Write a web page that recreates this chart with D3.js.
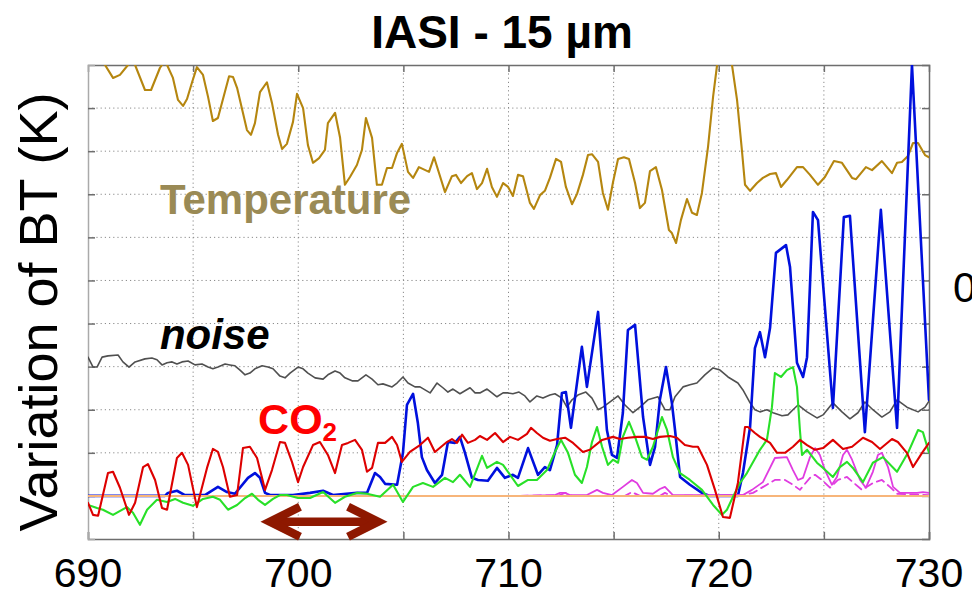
<!DOCTYPE html>
<html>
<head>
<meta charset="utf-8">
<script src="https://cdn.jsdelivr.net/npm/d3@7"></script>
<style>
  html, body { margin: 0; padding: 0; background: #fff; overflow: hidden; }
  svg { display: block; font-family: "Liberation Sans", Arial, sans-serif; }
</style>
</head>
<body>
<svg id="chart" width="972" height="594"></svg>
<script>
// ---------- data (wavenumber cm-1, variation of BT in K) ----------
const xTickLabels = [690, 700, 710, 720, 730];
const xGridValues = [695, 700, 705, 710, 715, 720, 725];
const yGridValues = [0, 1, 2, 3, 4, 5, 6, 7, 8, 9];

const temperature = [[690,10.5],[690.81,10.0],[691.19,9.70],[691.52,9.77],[691.9,10.0],[692.07,10.15],[692.24,10.0],[692.71,9.42],[693.0,9.42],[693.42,9.93],[693.61,10.07],[693.76,10.0],[694.04,9.70],[694.28,9.19],[694.52,9.05],[694.71,9.21],[694.95,9.60],[695.18,9.95],[695.47,9.77],[695.71,9.26],[695.94,8.70],[696.18,8.77],[696.71,9.74],[696.9,9.72],[697.09,9.47],[697.56,8.49],[697.75,8.38],[697.94,8.65],[698.18,9.37],[698.51,9.60],[698.75,9.12],[699.04,8.38],[699.23,8.05],[699.46,8.17],[699.75,8.68],[699.94,9.33],[700.23,9.0],[700.46,8.14],[700.7,7.73],[700.99,7.84],[701.27,8.03],[701.41,8.65],[701.75,8.89],[701.99,8.31],[702.22,7.22],[702.46,7.40],[702.79,7.68],[703.03,8.03],[703.22,8.77],[703.51,8.31],[703.74,7.22],[703.98,7.22],[704.22,7.61],[704.46,7.61],[704.7,7.96],[704.93,8.17],[705.22,7.52],[705.46,7.38],[705.74,7.63],[706.22,7.52],[706.46,7.86],[706.98,7.05],[707.31,7.42],[707.5,7.45],[707.74,7.26],[708.03,7.42],[708.26,7.49],[708.5,7.12],[708.74,7.26],[708.98,7.59],[709.21,7.17],[709.45,6.94],[709.74,7.26],[709.98,7.17],[710.21,6.96],[710.45,7.45],[710.69,7.42],[711.02,6.80],[711.21,6.66],[711.5,6.98],[711.73,7.08],[711.97,7.38],[712.26,7.82],[712.5,7.75],[712.73,7.17],[713.02,6.77],[713.26,7.01],[713.54,7.45],[713.78,7.91],[713.97,7.93],[714.26,7.75],[714.49,7.03],[714.73,6.64],[714.97,7.28],[715.21,7.82],[715.49,7.86],[715.73,7.82],[716.02,7.26],[716.25,6.68],[716.49,6.80],[716.73,7.54],[717.01,7.63],[717.3,7.10],[717.63,6.17],[717.77,6.10],[717.97,5.87],[718.2,6.40],[718.49,6.89],[718.73,6.57],[718.96,6.52],[719.2,7.03],[719.49,8.10],[719.73,9.26],[719.92,10.0],[720.29,11.0],[720.63,10.0],[720.87,9.19],[721.1,8.03],[721.25,7.22],[721.49,7.08],[721.82,7.26],[722.1,7.38],[722.44,7.47],[722.72,7.49],[722.96,7.17],[723.24,7.33],[723.72,7.63],[724.01,7.63],[724.34,7.45],[724.72,7.22],[725.05,7.40],[725.48,7.77],[725.86,7.73],[726.34,7.38],[726.53,7.35],[727.0,7.63],[727.29,7.56],[727.76,7.77],[728.24,7.49],[728.48,7.73],[728.71,7.75],[729.0,7.89],[729.24,8.19],[729.48,8.19],[729.81,7.91],[730,7.86]];

const noise = [[690,3.22],[690.24,2.99],[690.43,2.99],[690.67,3.22],[690.95,3.25],[691.43,3.27],[691.66,3.11],[691.95,2.99],[692.24,3.11],[692.71,3.18],[693.04,3.20],[693.28,3.16],[693.52,3.04],[693.76,3.09],[694.0,3.11],[694.23,3.06],[694.47,3.11],[694.76,3.13],[695.09,3.04],[695.42,3.06],[695.71,2.99],[695.94,2.95],[696.18,2.99],[696.52,3.06],[696.75,3.04],[696.99,3.02],[697.23,2.92],[697.47,2.81],[697.7,2.85],[697.94,2.95],[698.28,3.02],[698.56,2.99],[698.8,2.95],[699.13,2.78],[699.37,2.74],[699.61,2.85],[699.99,2.99],[700.23,2.95],[700.46,2.85],[700.8,2.74],[701.18,2.71],[701.41,2.81],[701.75,2.90],[701.99,2.85],[702.22,2.74],[702.56,2.67],[702.84,2.67],[703.22,2.81],[703.51,2.71],[703.79,2.58],[704.03,2.60],[704.46,2.53],[704.7,2.62],[704.98,2.76],[705.22,2.62],[705.55,2.53],[705.79,2.53],[706.03,2.46],[706.27,2.39],[706.6,2.62],[706.88,2.51],[707.12,2.41],[707.36,2.48],[707.69,2.37],[707.93,2.44],[708.17,2.51],[708.41,2.39],[708.64,2.39],[708.98,2.48],[709.21,2.39],[709.45,2.30],[709.74,2.39],[709.98,2.39],[710.21,2.37],[710.5,2.41],[710.78,2.32],[711.02,2.18],[711.35,2.32],[711.64,2.27],[711.97,2.34],[712.21,2.37],[712.54,2.27],[712.78,2.06],[713.02,2.23],[713.3,2.34],[713.68,2.41],[713.97,2.27],[714.26,2.00],[714.49,2.06],[714.83,2.18],[715.21,2.32],[715.54,2.11],[715.92,1.93],[716.25,2.06],[716.63,2.23],[717.11,2.30],[717.44,2.00],[717.68,2.00],[717.92,2.30],[718.3,2.53],[718.63,2.58],[718.96,2.62],[719.34,2.81],[719.73,2.97],[720.06,2.92],[720.44,2.76],[720.91,2.62],[721.15,2.46],[721.49,2.16],[721.72,2.00],[721.96,1.95],[722.29,2.00],[722.58,1.93],[723.01,1.86],[723.29,1.88],[723.53,2.00],[723.77,2.11],[724.2,1.95],[724.67,1.81],[724.96,1.88],[725.43,2.16],[725.86,1.95],[726.24,1.79],[726.62,1.93],[726.95,2.18],[727.33,2.00],[727.76,1.83],[728.14,1.95],[728.48,2.23],[728.95,2.06],[729.48,1.95],[729.81,2.06],[730,2.20]];

const seriesBlue = [[690,0],[693.66,0],[693.8,0.07],[694.23,0.12],[694.61,0.02],[695.56,0.02],[696.18,0.21],[696.61,0.09],[696.99,0.05],[697.61,0.42],[697.94,0.53],[698.18,0.42],[698.42,0.07],[698.66,0.02],[699.75,0.02],[700.56,0.07],[701.18,0.12],[701.65,0.02],[702.79,0.07],[703.27,0.07],[703.65,0.53],[703.89,0.44],[704.13,0.28],[704.7,0.26],[704.98,1.0],[705.17,2.11],[705.46,2.37],[705.69,1.69],[705.88,0.90],[706.12,0.60],[706.5,0.30],[706.84,0.49],[707.12,1.25],[707.45,1.23],[707.69,1.37],[707.93,1.0],[708.26,0.42],[708.55,0.37],[709.02,0.35],[709.45,0.65],[709.83,0.42],[710.21,0.49],[710.45,0.42],[710.93,1.11],[711.4,0.49],[711.73,0.67],[711.97,0.60],[712.31,1.18],[712.54,2.39],[712.73,2.41],[712.97,1.58],[713.49,3.46],[713.73,2.53],[714.26,4.27],[714.68,1.53],[714.92,0.95],[715.16,0.88],[715.44,1.93],[715.68,3.85],[716.02,3.97],[716.4,1.83],[716.73,0.72],[716.97,1.14],[717.2,2.23],[717.49,2.99],[717.77,2.16],[717.92,1.53],[718.16,0.44],[718.63,0.26],[719.2,0.07],[719.58,0],[720.91,0],[721.15,0.53],[721.49,1.60],[721.72,3.43],[721.96,3.80],[722.2,3.22],[722.44,3.90],[722.72,5.64],[723.2,5.82],[723.39,5.31],[723.72,3.09],[724.01,2.76],[724.2,3.22],[724.48,6.59],[724.72,6.40],[725.43,2.04],[725.95,6.47],[726.24,6.50],[726.95,1.48],[727.71,6.64],[728.48,1.58],[729.19,10.0],[730,2.23]];

const seriesGreen = [[690,-0.21],[690.43,-0.28],[690.71,-0.32],[691.19,-0.44],[691.85,-0.26],[692.14,-0.39],[692.47,-0.67],[692.81,-0.32],[693.28,-0.09],[693.76,-0.14],[694.14,-0.07],[694.52,-0.16],[694.99,-0.23],[695.47,-0.07],[695.94,-0.02],[696.28,-0.09],[696.66,-0.32],[697.09,-0.21],[697.47,-0.05],[697.8,0.05],[698.09,-0.09],[698.42,-0.21],[698.8,-0.07],[699.13,0.02],[699.46,0.02],[699.99,-0.05],[700.56,-0.05],[701.18,0.09],[701.75,-0.16],[702.22,-0.02],[702.79,0.07],[703.27,0.05],[703.89,-0.02],[704.51,0.26],[704.98,-0.14],[705.46,0.21],[705.93,0.30],[706.41,0.21],[706.98,0.42],[707.36,0.32],[707.69,0.49],[708.17,0.21],[708.74,0.93],[708.98,0.65],[709.45,0.79],[709.74,0.72],[710.45,0.23],[710.93,0.37],[711.35,0.37],[711.83,0.60],[712.21,1.02],[712.5,1.30],[712.83,1.0],[713.16,0.49],[713.49,0.30],[713.73,0.67],[713.97,1.25],[714.21,1.60],[714.45,1.14],[714.73,0.72],[714.97,0.84],[715.21,0.77],[715.44,1.37],[715.73,1.72],[716.02,1.37],[716.35,0.90],[716.59,0.84],[716.87,1.14],[717.3,1.83],[717.54,1.53],[717.82,0.90],[718.16,0.53],[718.63,0.37],[719.2,0.14],[719.73,-0.21],[720.15,-0.44],[720.39,-0.32],[720.68,-0.02],[721.01,0.30],[721.34,0.53],[721.96,1.07],[722.29,1.30],[722.53,2.06],[722.67,2.85],[722.96,2.76],[723.24,2.92],[723.53,2.99],[723.72,2.53],[723.86,1.53],[723.96,0.95],[724.2,1.07],[724.67,0.77],[724.96,0.65],[725.43,0.44],[725.76,0.67],[726.1,0.79],[726.38,0.65],[726.86,0.32],[727.33,0.77],[727.81,0.90],[728.48,0.56],[729.0,1.0],[729.48,1.53],[729.71,1.48],[730,1.0]];

const seriesRed = [[690,-0.16],[690.24,-0.44],[690.48,-0.46],[690.95,0.53],[691.19,0.56],[691.52,0.19],[691.95,-0.44],[692.24,-0.16],[692.62,0.67],[692.85,0.74],[693.19,0.37],[693.52,-0.28],[693.76,-0.32],[694.23,0.88],[694.47,1.0],[694.76,0.72],[695.18,-0.26],[695.66,0.65],[695.94,1.09],[696.18,1.02],[696.42,0.67],[696.75,-0.02],[697.09,0.02],[697.37,1.11],[697.7,1.14],[698.04,0.88],[698.42,0.14],[698.75,0.60],[699.13,1.25],[699.37,1.23],[699.7,0.79],[699.99,0.32],[700.23,0.67],[700.7,1.18],[701.03,1.25],[701.41,0.95],[701.75,0.53],[702.08,1.18],[702.37,1.23],[702.7,1.30],[703.03,1.07],[703.27,0.56],[703.51,0.65],[703.79,1.23],[704.13,1.23],[704.46,1.37],[704.7,1.18],[704.93,0.79],[705.31,1.02],[705.79,1.18],[706.17,1.35],[706.5,1.02],[707.07,1.25],[707.31,1.32],[707.55,1.23],[707.79,1.42],[708.07,1.23],[708.41,1.30],[708.64,1.39],[708.98,1.30],[709.36,1.46],[709.74,1.25],[710.07,1.37],[710.45,1.30],[710.88,1.44],[711.07,1.58],[711.35,1.46],[711.64,1.35],[711.97,1.28],[712.31,1.32],[712.69,1.35],[713.07,1.23],[713.54,1.02],[713.87,1.07],[714.45,1.30],[714.97,1.37],[715.3,1.32],[715.68,1.35],[716.11,1.37],[716.49,1.37],[716.87,1.32],[717.2,1.37],[717.68,1.39],[718.01,1.35],[718.39,1.18],[718.77,1.14],[719.01,1.14],[719.44,0.72],[719.82,0.14],[720.2,-0.49],[720.53,-0.51],[720.91,0.30],[721.25,1.60],[721.39,1.60],[721.72,1.46],[721.96,1.37],[722.44,1.23],[722.77,1.0],[723.15,1.0],[723.53,1.14],[723.86,1.30],[724.2,1.18],[724.58,1.07],[724.96,1.11],[725.43,1.30],[725.91,1.09],[726.34,1.14],[726.86,1.35],[727.29,1.25],[727.67,1.09],[728.24,1.32],[728.52,1.25],[728.95,1.0],[729.24,0.67],[729.67,1.0],[730,1.23]];

const seriesMagenta = [[710.55,0],[712.21,0.02],[712.45,0.07],[712.69,0.07],[712.92,0.02],[713.73,0.02],[714.21,0.14],[714.49,0.07],[714.92,0.02],[715.44,0.21],[715.87,0.37],[716.11,0.30],[716.4,0.07],[716.87,0.05],[717.2,0.16],[717.44,0.21],[717.82,0.02],[721.15,0.02],[721.58,0.14],[722.1,0.32],[722.67,0.88],[723.24,0.90],[723.53,0.60],[723.77,0.37],[724.01,0.42],[724.34,0.90],[724.58,1.11],[724.81,0.95],[725.05,0.60],[725.38,0.26],[725.62,0.44],[725.91,0.95],[726.1,1.07],[726.34,0.84],[726.72,0.37],[727.0,0.19],[727.33,0.56],[727.57,0.95],[727.76,1.0],[728.05,0.67],[728.29,0.21],[728.62,0.07],[729.43,0.07],[729.71,0.09],[730,0.07]];

const seriesMagentaDashed = [[710.55,0],[712.45,0.02],[712.69,0.07],[713.02,0],[715.54,0],[715.87,0.09],[716.25,0],[717.2,0],[717.44,0.07],[717.77,0],[721.15,0.02],[721.63,0.07],[722.29,0.26],[722.67,0.37],[723.15,0.37],[723.53,0.26],[723.86,0.14],[724.34,0.42],[724.58,0.49],[724.91,0.37],[725.29,0.19],[725.67,0.37],[726.1,0.44],[726.38,0.32],[726.81,0.14],[727.33,0.30],[727.76,0.37],[728.14,0.21],[728.48,0.05],[730,0.02]];

const zeroLine = [[690,0],[730,0]];

const arrowSpan = [698.18, 704.27];   // double arrow extent (cm-1)
const arrowLevel = -0.6;               // arrow height (K)

// ---------- layout ----------
const svg = d3.select("#chart");
const margin = {left: 88, right: 972 - 929, top: 65, bottom: 594 - 539};
const W = 972, H = 594;
const x = d3.scaleLinear().domain([690, 730]).range([margin.left, W - margin.right]);
const y = d3.scaleLinear().domain([-1, 10]).range([H - margin.bottom, margin.top]);
const FONT = '"Liberation Sans", Arial, Helvetica, sans-serif';

svg.append("defs").append("clipPath").attr("id", "plotclip")
  .append("rect").attr("x", x(690)).attr("y", y(10)).attr("width", x(730) - x(690)).attr("height", y(-1) - y(10));

// grid
const grid = svg.append("g");
grid.selectAll("line.vg").data(xGridValues).join("line")
  .attr("x1", d => x(d)).attr("x2", d => x(d)).attr("y1", y(10)).attr("y2", y(-1))
  .attr("stroke", "#8a8a8a").attr("stroke-width", 1).attr("stroke-dasharray", "1.2,3");
grid.selectAll("line.hg").data(yGridValues).join("line")
  .attr("x1", x(690)).attr("x2", x(730)).attr("y1", d => y(d)).attr("y2", d => y(d))
  .attr("stroke", "#8a8a8a").attr("stroke-width", 1).attr("stroke-dasharray", "1.2,3");

// axes (ticks inward, no y labels)
const axisColor = "#6e6e6e";
const gB = svg.append("g").attr("transform", `translate(0,${y(-1)})`)
  .call(d3.axisBottom(x).tickValues(xGridValues.concat([690, 730])).tickSize(-7).tickFormat(""));
const gT = svg.append("g").attr("transform", `translate(0,${y(10)})`)
  .call(d3.axisTop(x).tickValues(xGridValues).tickSize(-7).tickFormat(""));
const gL = svg.append("g").attr("transform", `translate(${x(690)},0)`)
  .call(d3.axisLeft(y).tickValues(yGridValues).tickSize(-7).tickFormat(""));
const gR = svg.append("g").attr("transform", `translate(${x(730)},0)`)
  .call(d3.axisRight(y).tickValues(yGridValues).tickSize(-7).tickFormat(""));
[gB, gT, gL, gR].forEach(g => {
  g.select(".domain").attr("stroke", axisColor).attr("stroke-width", 1.5);
  g.selectAll(".tick line").attr("stroke", axisColor).attr("stroke-width", 1.5);
});
gL.select(".domain").attr("stroke", "#aaaaaa");

// x tick labels
svg.append("g").selectAll("text").data(xTickLabels).join("text")
  .attr("x", d => x(d)).attr("y", 587).attr("text-anchor", "middle")
  .attr("font-family", FONT).attr("font-size", 41).attr("fill", "#000")
  .text(d => d);

// series
const line = d3.line().x(d => x(d[0])).y(d => y(d[1]));
const plot = svg.append("g").attr("clip-path", "url(#plotclip)");
function draw(data, color, width, dash) {
  plot.append("path").datum(data).attr("d", line)
    .attr("fill", "none").attr("stroke", color).attr("stroke-width", width)
    .attr("stroke-linejoin", "round").attr("stroke-linecap", "round")
    .attr("stroke-dasharray", dash || null);
}
draw(temperature, "#B5860F", 2.1);
draw(noise, "#505050", 1.6);
draw(seriesBlue, "#0010DD", 2.6);
draw(seriesMagentaDashed, "#E03CE0", 1.8, "8,5");
draw(seriesMagenta, "#E03CE0", 1.8);
draw(zeroLine, "#F7B57A", 2);
draw(seriesGreen, "#28E028", 2.1);
draw(seriesRed, "#DD0000", 2.1);

// labels
svg.append("text").attr("x", x(693.42)).attr("y", y(6.54))
  .attr("font-family", FONT).attr("font-weight", "bold").attr("font-size", 42)
  .attr("fill", "#9A8A55").text("Temperature");
svg.append("text").attr("x", x(693.42)).attr("y", y(3.41))
  .attr("font-family", FONT).attr("font-weight", "bold").attr("font-style", "italic")
  .attr("font-size", 42).attr("fill", "#000").text("noise");
const co2 = svg.append("text").attr("x", x(698.09)).attr("y", y(1.44))
  .attr("font-family", FONT).attr("font-weight", "bold").attr("font-size", 43).attr("fill", "#FF0000");
co2.append("tspan").text("CO");
co2.append("tspan").attr("font-size", 26).attr("dy", 7).text("2");

// double arrow
const ax1 = x(arrowSpan[0]), ax2 = x(arrowSpan[1]), ay = y(arrowLevel);
const arrowColor = "#8E1800";
const ag = svg.append("g").attr("stroke", arrowColor).attr("fill", "none").attr("stroke-width", 8.5);
ag.append("line").attr("x1", ax1 + 10).attr("x2", ax2 - 10).attr("y1", ay).attr("y2", ay);
ag.append("path").attr("d", `M${ax1 + 40},${ay - 15} L${ax1 + 10},${ay} L${ax1 + 40},${ay + 15}`)
  .attr("stroke-linejoin", "miter");
ag.append("path").attr("d", `M${ax2 - 40},${ay - 15} L${ax2 - 10},${ay} L${ax2 - 40},${ay + 15}`)
  .attr("stroke-linejoin", "miter");

// title
svg.append("text").attr("x", 502).attr("y", 48).attr("text-anchor", "middle")
  .attr("font-family", FONT).attr("font-weight", "bold").attr("font-size", 46)
  .attr("fill", "#000").text("IASI - 15 µm");

// y axis title
svg.append("text").attr("transform", "translate(57,312) rotate(-90)")
  .attr("text-anchor", "middle").attr("font-family", FONT).attr("font-size", 54)
  .attr("fill", "#000").text("Variation of BT (K)");

// partial neighbour label at right edge
svg.append("text").attr("x", 953).attr("y", 302)
  .attr("font-family", FONT).attr("font-size", 42).attr("fill", "#000").text("0");
</script>
</body>
</html>
